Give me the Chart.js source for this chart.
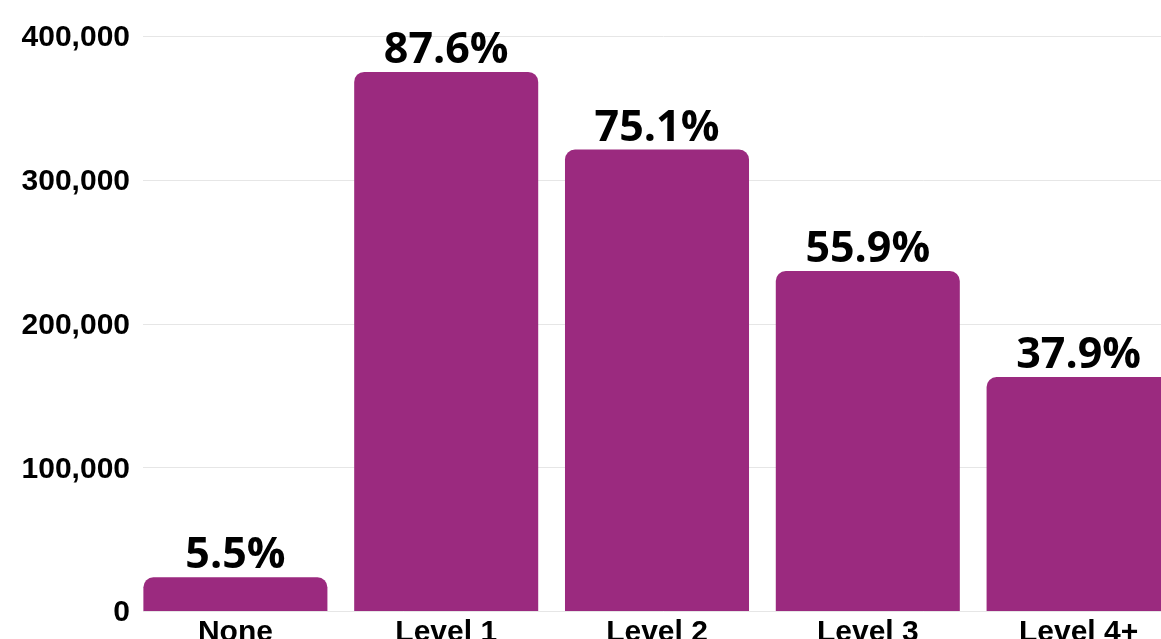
<!DOCTYPE html>
<html>
<head>
<meta charset="utf-8">
<script src="https://cdn.jsdelivr.net/npm/chart.js@4"></script>
<style>
  html, body { margin: 0; padding: 0; background: #fff; overflow: hidden; }
  #wrap { position: absolute; left: 0; top: 0; width: 1184px; height: 661px; }
</style>
</head>
<body>
<div id="wrap"><canvas id="levels-chart"></canvas></div>
<script>
var categories = ['None', 'Level 1', 'Level 2', 'Level 3', 'Level 4+'];
var counts = [23500, 375000, 321000, 236500, 162800];
var shares = [5.5, 87.6, 75.1, 55.9, 37.9];
var yTicks = [0, 100000, 200000, 300000, 400000];

var barColor = '#9b2a7f';
var gridColor = '#e6e6e6';

// horizontal grid lines, starting a little right of the tick labels
var gridLines = {
    id: 'gridLines',
    beforeDatasetsDraw: function(chart) {
        const ctx = chart.ctx;
        const y = chart.scales.y;
        const area = chart.chartArea;
        ctx.save();
        ctx.strokeStyle = gridColor;
        ctx.lineWidth = 1;
        y.ticks.forEach(function(t) {
            const py = Math.round(y.getPixelForValue(t.value)) + 0.5;
            ctx.beginPath();
            ctx.moveTo(area.left + 13, py);
            ctx.lineTo(area.right, py);
            ctx.stroke();
        });
        ctx.restore();
    }
};

// draws the percentage above each bar
var shareLabels = {
    id: 'shareLabels',
    afterDatasetsDraw: function(chart) {
        const ctx = chart.ctx;
        const meta = chart.getDatasetMeta(0);
        ctx.save();
        ctx.font = 'bold 43px "Open Sans"';
        ctx.fillStyle = '#000';
        ctx.textAlign = 'center';
        ctx.textBaseline = 'alphabetic';
        meta.data.forEach(function(bar, i) {
            ctx.fillText(shares[i].toFixed(1) + '%', bar.x, bar.y - 9);
        });
        ctx.restore();
    }
};

function levelsChart(id) {
    const ctx = document.getElementById(id);

    return new Chart(ctx, {
        type: 'bar',
        data: {
            labels: categories,
            datasets: [
                {
                    label: 'Count',
                    data: counts,
                    backgroundColor: barColor,
                    borderRadius: 10,
                    borderSkipped: 'start',
                    categoryPercentage: 1,
                    barPercentage: 0.873
                }
            ]
        },
        options: {
            responsive: true,
            maintainAspectRatio: false,
            animation: false,
            layout: {
                padding: { top: 36, left: 0, right: 0, bottom: 0 }
            },
            scales: {
                x: {
                    grid: { display: false },
                    border: { display: false },
                    ticks: {
                        color: '#000',
                        padding: -4,
                        font: { family: '"Liberation Sans", Arial', size: 30, weight: 'bold' }
                    },
                    afterFit: function(scale) { scale.height = 50; }
                },
                y: {
                    min: 0,
                    max: 400000,
                    afterBuildTicks: function(scale) {
                        scale.ticks = yTicks.map(v => ({ value: v }));
                    },
                    grid: { display: false, drawTicks: false },
                    border: { display: false },
                    ticks: {
                        color: '#000',
                        padding: 0,
                        labelOffset: 2,
                        font: { family: '"Liberation Sans", Arial', size: 30, weight: 'bold' },
                        callback: function(v) { return v.toLocaleString('en-US'); }
                    },
                    afterFit: function(scale) { scale.width = 130; }
                }
            },
            plugins: {
                legend: { display: false },
                tooltip: { enabled: false }
            }
        },
        plugins: [gridLines, shareLabels]
    });
}

levelsChart('levels-chart');
</script>
</body>
</html>
